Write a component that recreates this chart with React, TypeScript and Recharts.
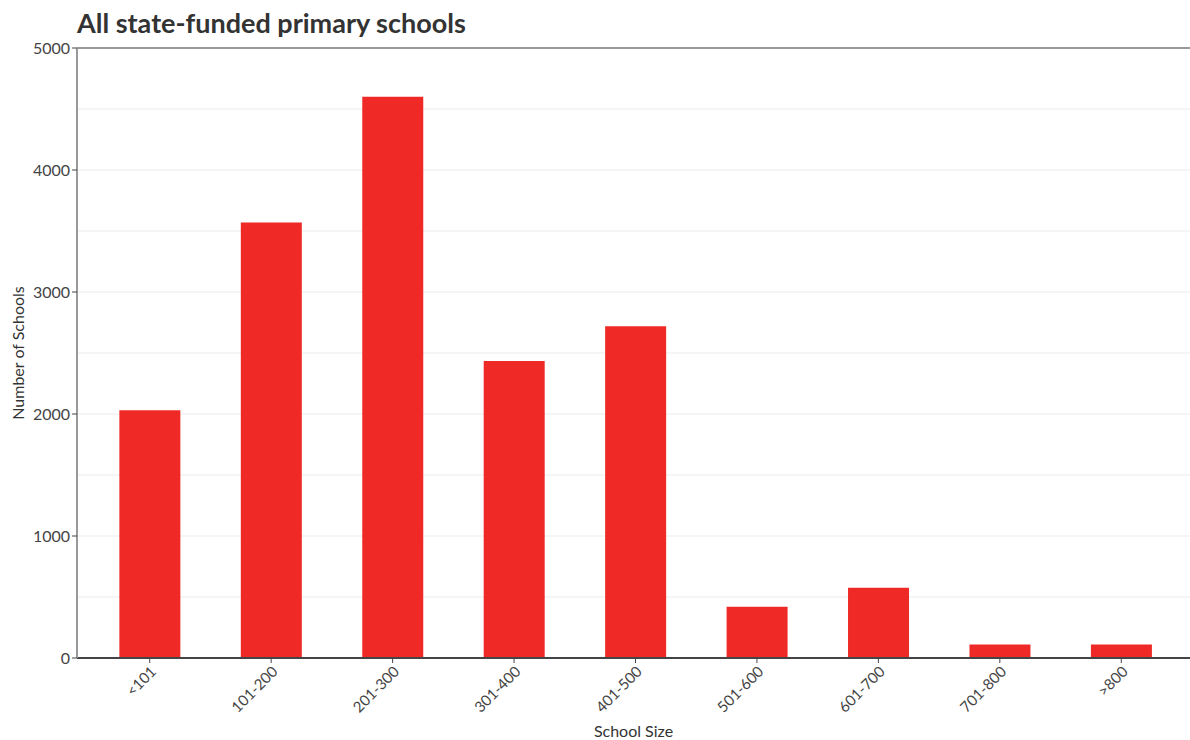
import {
  BarChart,
  Bar,
  XAxis,
  YAxis,
  CartesianGrid,
  ReferenceLine,
} from "recharts";

const categories = ["<101", "101-200", "201-300", "301-400", "401-500", "501-600", "601-700", "701-800", ">800"];
const schoolCounts = [2030, 3570, 4600, 2435, 2720, 420, 575, 110, 110];
const yTicks = [0, 1000, 2000, 3000, 4000, 5000];
const gridValues = [500, 1000, 1500, 2000, 2500, 3000, 3500, 4000, 4500];

const FONT = "Lato, 'Open Sans', sans-serif";

const data = categories.map((c, i) => ({ category: c, count: schoolCounts[i] }));

function YLabel(props: any) {
  const vb = props.viewBox || {};
  const cy = vb.y + vb.height / 2;
  return (
    <text
      x={17}
      y={cy}
      transform={`rotate(-90 17 ${cy})`}
      textAnchor="middle"
      dominantBaseline="central"
      fill="#333"
      fontSize={16}
      fontFamily={FONT}
    >
      Number of Schools
    </text>
  );
}

export default function App() {
  return (
    <div style={{ position: "absolute", left: 0, top: 0, width: 1190, height: 740, background: "#fff" }}>
      <div
        style={{
          position: "absolute",
          left: 77,
          top: 6,
          fontFamily: FONT,
          fontWeight: 700,
          fontSize: 27,
          color: "#333",
          whiteSpace: "nowrap",
        }}
      >
        All state-funded primary schools
      </div>
      <BarChart
        width={1190}
        height={740}
        data={data}
        margin={{ top: 48, right: 0, left: 0, bottom: 0 }}
        barCategoryGap="25%"
      >
        <CartesianGrid vertical={false} horizontalValues={gridValues} stroke="#ebebeb" />
        <XAxis
          dataKey="category"
          interval={0}
          height={82}
          padding={{ left: 12, right: 8 }}
          axisLine={{ stroke: "#444", strokeWidth: 2 }}
          tickLine={{ stroke: "#444" }}
          tickSize={5}
          tick={{ fill: "#444", fontSize: 15, fontFamily: FONT, angle: -45, textAnchor: "end" }}
          label={{ value: "School Size", position: "insideBottom", offset: 3, fill: "#333", fontSize: 16, fontFamily: FONT }}
        />
        <YAxis
          domain={[0, 5000]}
          ticks={yTicks}
          width={77}
          axisLine={{ stroke: "#999", strokeWidth: 2 }}
          tickLine={{ stroke: "#444" }}
          tickSize={5}
          tick={{ fill: "#444", fontSize: 16, fontFamily: FONT }}
          label={<YLabel />}
        />
        <Bar dataKey="count" fill="#ef2a26" isAnimationActive={false} />
        <ReferenceLine y={5000} stroke="#999" strokeWidth={2} />
      </BarChart>
    </div>
  );
}
